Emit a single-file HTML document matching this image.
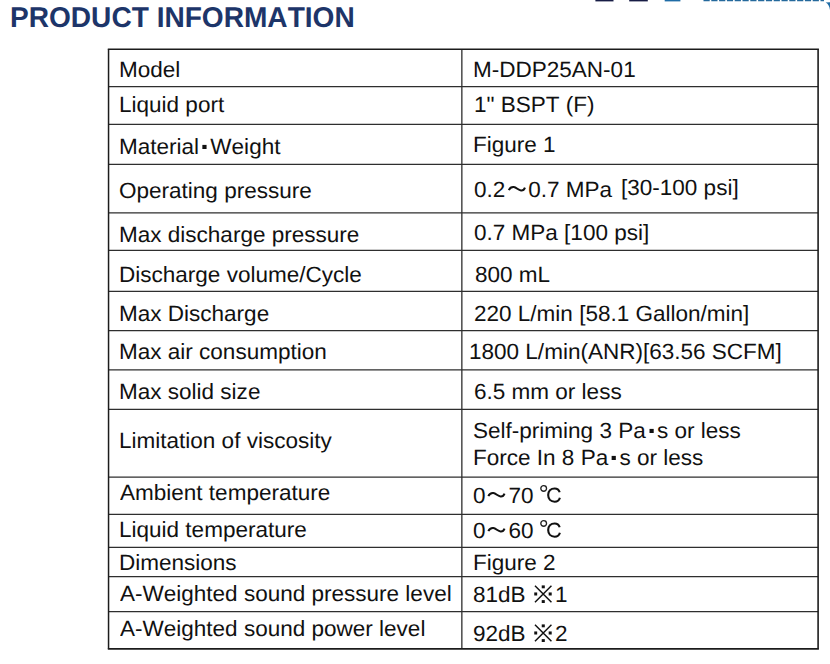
<!DOCTYPE html>
<html><head><meta charset="utf-8"><title>Product Information</title>
<style>
html,body{margin:0;padding:0;background:#fff;}
body{width:830px;height:664px;position:relative;overflow:hidden;font-family:"Liberation Sans",sans-serif;color:#111;text-rendering:geometricPrecision;font-kerning:none;}
.t{position:absolute;font-size:22px;line-height:22px;white-space:pre;transform:scaleX(1.0235);transform-origin:0 0;}
.title{position:absolute;left:10.25px;top:4px;font-size:28.6px;line-height:28px;font-weight:bold;color:#1d3569;white-space:pre;transform:scaleX(0.982);transform-origin:0 0;}
i{display:inline-block;font-style:normal;position:relative;}
.dt{width:11px;height:22px;vertical-align:top;}
.wv{width:22.4px;height:22px;vertical-align:top;}
.dc{width:22px;height:22px;vertical-align:top;}
.km{width:22.7px;height:22px;vertical-align:top;}
svg{position:absolute;left:0;top:0;overflow:visible;}
</style></head><body>
<div class="title">PRODUCT INFORMATION</div>
<svg width="830" height="14" viewBox="0 0 830 14" style="position:absolute;left:0;top:0"><rect x="595.4" y="0" width="18.1" height="1.4" fill="#171c45"/><rect x="629.2" y="0" width="18.6" height="1.4" fill="#171c45"/><rect x="664.7" y="0" width="15.7" height="1.4" fill="#1f6ca6"/><line x1="703.5" y1="0.55" x2="824" y2="0.55" stroke="#24699c" stroke-width="1.5" stroke-dasharray="6.2 1.6"/><path d="M825.6 2.6 C828 3.6 829.4 6.2 830 10 L830 2.2 Z" fill="#1f6ca6"/></svg>
<svg width="830" height="664" viewBox="0 0 830 664" style="position:absolute;left:0;top:0"><line x1="108.55" y1="86.57" x2="818.1" y2="86.57" stroke="#2e2e2e" stroke-width="1.25"/><line x1="108.55" y1="124.4" x2="818.1" y2="124.4" stroke="#2e2e2e" stroke-width="1.25"/><line x1="108.55" y1="164.4" x2="818.1" y2="164.4" stroke="#2e2e2e" stroke-width="1.25"/><line x1="108.55" y1="212.8" x2="818.1" y2="212.8" stroke="#2e2e2e" stroke-width="1.25"/><line x1="108.55" y1="250.45" x2="818.1" y2="250.45" stroke="#2e2e2e" stroke-width="1.25"/><line x1="108.55" y1="291.45" x2="818.1" y2="291.45" stroke="#2e2e2e" stroke-width="1.25"/><line x1="108.55" y1="330.5" x2="818.1" y2="330.5" stroke="#2e2e2e" stroke-width="1.25"/><line x1="108.55" y1="369.85" x2="818.1" y2="369.85" stroke="#2e2e2e" stroke-width="1.25"/><line x1="108.55" y1="409.4" x2="818.1" y2="409.4" stroke="#2e2e2e" stroke-width="1.25"/><line x1="108.55" y1="477.2" x2="818.1" y2="477.2" stroke="#2e2e2e" stroke-width="1.25"/><line x1="108.55" y1="514.45" x2="818.1" y2="514.45" stroke="#2e2e2e" stroke-width="1.25"/><line x1="108.55" y1="547.45" x2="818.1" y2="547.45" stroke="#2e2e2e" stroke-width="1.25"/><line x1="108.55" y1="576.5" x2="818.1" y2="576.5" stroke="#2e2e2e" stroke-width="1.25"/><line x1="108.55" y1="611.5" x2="818.1" y2="611.5" stroke="#2e2e2e" stroke-width="1.25"/><line x1="461.85" y1="49.25" x2="461.85" y2="648.85" stroke="#2e2e2e" stroke-width="1.3"/><line x1="107.8" y1="49.25" x2="818.9" y2="49.25" stroke="#1c1c1c" stroke-width="1.7"/><line x1="107.8" y1="648.85" x2="818.9" y2="648.85" stroke="#1c1c1c" stroke-width="1.9"/><line x1="108.55" y1="49.25" x2="108.55" y2="648.85" stroke="#1c1c1c" stroke-width="1.5"/><line x1="818.1" y1="49.25" x2="818.1" y2="648.85" stroke="#1c1c1c" stroke-width="1.6"/></svg>
<div class="t" style="left:119.3px;top:59.00px">Model</div>
<div class="t" style="left:119.3px;top:94.00px">Liquid port</div>
<div class="t" style="left:119.3px;top:136.00px">Material<i class="dt"><svg width="11" height="22" viewBox="0 0 11 22"><rect x="3.45" y="8.9" width="4.1" height="4.1" fill="#111"/></svg></i>Weight</div>
<div class="t" style="left:119.3px;top:180.00px">Operating pressure</div>
<div class="t" style="left:119.3px;top:224.00px">Max discharge pressure</div>
<div class="t" style="left:119.3px;top:264.00px">Discharge volume/Cycle</div>
<div class="t" style="left:119.3px;top:303.00px">Max Discharge</div>
<div class="t" style="left:119.3px;top:341.00px">Max air consumption</div>
<div class="t" style="left:119.3px;top:381.00px">Max solid size</div>
<div class="t" style="left:119.3px;top:430.00px">Limitation of viscosity</div>
<div class="t" style="left:119.55px;top:482.00px">Ambient temperature</div>
<div class="t" style="left:119.3px;top:519.00px">Liquid temperature</div>
<div class="t" style="left:119.3px;top:552.00px">Dimensions</div>
<div class="t" style="left:119.55px;top:583.00px">A-Weighted sound pressure level</div>
<div class="t" style="left:119.55px;top:618.00px">A-Weighted sound power level</div>
<div class="t" style="left:473.25px;top:59.00px">M-DDP25AN-01</div>
<div class="t" style="left:474.15px;top:94.00px">1" BSPT (F)</div>
<div class="t" style="left:473.3px;top:134.00px">Figure 1</div>
<div class="t" style="left:474.0px;top:179.00px">0.2<i class="wv"><svg width="22" height="22" viewBox="0 0 22 22"><path d="M3.0 11.2 C4.1 8.8 6.0 7.9 7.9 8.1 C10.4 8.4 12.3 11.2 14.9 11.5 C16.8 11.7 18.1 10.5 18.8 8.6" fill="none" stroke="#111" stroke-width="2.0"/></svg></i>0.7 MPa</div>
<div class="t" style="left:621.35px;top:177.00px">[30-100 psi]</div>
<div class="t" style="left:474.4px;top:222.00px">0.7 MPa [100 psi]</div>
<div class="t" style="left:474.65px;top:264.00px">800 mL</div>
<div class="t" style="left:474.35px;top:303.00px">220 L/min [58.1 Gallon/min]</div>
<div class="t" style="left:468.55px;top:341.00px">1800 L/min(ANR)[63.56 SCFM]</div>
<div class="t" style="left:473.5px;top:381.00px">6.5 mm or less</div>
<div class="t" style="left:473.25px;top:420.00px">Self-priming 3 Pa<i class="dt"><svg width="11" height="22" viewBox="0 0 11 22"><rect x="3.45" y="8.9" width="4.1" height="4.1" fill="#111"/></svg></i>s or less</div>
<div class="t" style="left:473.3px;top:447.00px">Force In 8 Pa<i class="dt"><svg width="11" height="22" viewBox="0 0 11 22"><rect x="3.45" y="8.9" width="4.1" height="4.1" fill="#111"/></svg></i>s or less</div>
<div class="t" style="left:473.25px;top:485.00px">0<i class="wv"><svg width="22" height="22" viewBox="0 0 22 22"><path d="M3.0 11.2 C4.1 8.8 6.0 7.9 7.9 8.1 C10.4 8.4 12.3 11.2 14.9 11.5 C16.8 11.7 18.1 10.5 18.8 8.6" fill="none" stroke="#111" stroke-width="2.0"/></svg></i>70 <i class="dc"><svg width="22" height="22" viewBox="0 0 22 22"><circle cx="4.05" cy="3.45" r="2.8" fill="none" stroke="#222" stroke-width="1.3"/><path d="M19.7 7.2 C18.9 4.8 17.1 3.45 14.8 3.45 C11 3.45 8.45 6.2 8.45 10.1 C8.45 14 11 16.7 14.8 16.7 C17.3 16.7 19.2 15.2 19.9 12.7" fill="none" stroke="#111" stroke-width="2.05"/></svg></i></div>
<div class="t" style="left:473.25px;top:520.00px">0<i class="wv"><svg width="22" height="22" viewBox="0 0 22 22"><path d="M3.0 11.2 C4.1 8.8 6.0 7.9 7.9 8.1 C10.4 8.4 12.3 11.2 14.9 11.5 C16.8 11.7 18.1 10.5 18.8 8.6" fill="none" stroke="#111" stroke-width="2.0"/></svg></i>60 <i class="dc"><svg width="22" height="22" viewBox="0 0 22 22"><circle cx="4.05" cy="3.45" r="2.8" fill="none" stroke="#222" stroke-width="1.3"/><path d="M19.7 7.2 C18.9 4.8 17.1 3.45 14.8 3.45 C11 3.45 8.45 6.2 8.45 10.1 C8.45 14 11 16.7 14.8 16.7 C17.3 16.7 19.2 15.2 19.9 12.7" fill="none" stroke="#111" stroke-width="2.05"/></svg></i></div>
<div class="t" style="left:473.3px;top:552.00px">Figure 2</div>
<div class="t" style="left:473.45px;top:584.00px">81dB <i class="km"><svg width="22" height="22" viewBox="0 0 22 22"><path d="M2.55 1.75 L18.65 18.3 M18.65 1.75 L2.55 18.3" fill="none" stroke="#111" stroke-width="1.4"/><rect x="9.15" y="1.4" width="3" height="2.9" fill="#111"/><rect x="9.15" y="16.1" width="3" height="2.9" fill="#111"/><rect x="1.85" y="8.45" width="2.85" height="3.05" fill="#111"/><rect x="15.95" y="8.45" width="2.95" height="3.05" fill="#111"/></svg></i>1</div>
<div class="t" style="left:473.45px;top:623.00px">92dB <i class="km"><svg width="22" height="22" viewBox="0 0 22 22"><path d="M2.55 1.75 L18.65 18.3 M18.65 1.75 L2.55 18.3" fill="none" stroke="#111" stroke-width="1.4"/><rect x="9.15" y="1.4" width="3" height="2.9" fill="#111"/><rect x="9.15" y="16.1" width="3" height="2.9" fill="#111"/><rect x="1.85" y="8.45" width="2.85" height="3.05" fill="#111"/><rect x="15.95" y="8.45" width="2.95" height="3.05" fill="#111"/></svg></i>2</div>
</body></html>
